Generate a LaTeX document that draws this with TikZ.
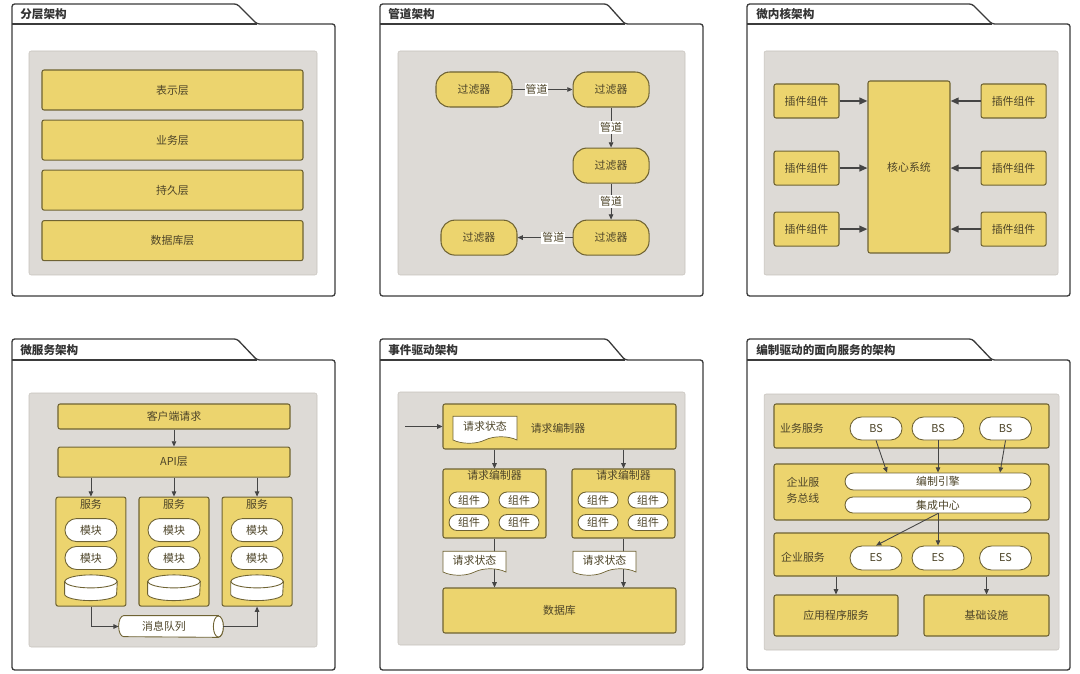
\documentclass[tikz,border=0pt]{standalone}
\usepackage{fontspec}
\setmainfont{Noto Sans CJK SC}
\usepackage{xcolor}
\usetikzlibrary{shapes.misc, shapes.symbols, arrows.meta, positioning, calc}
\definecolor{framegray}{HTML}{3B3B3B}
\definecolor{panelgray}{HTML}{DDDAD6}
\definecolor{panelline}{HTML}{C6C2BC}
\definecolor{layeryellow}{HTML}{ECD46E}
\definecolor{edgebrown}{HTML}{6F6333}
\definecolor{inktext}{HTML}{4D4428}
\definecolor{arrowgray}{HTML}{454545}
\newcommand{\boxfont}{\fontsize{6.2}{7.4}\selectfont}
\tikzset{
  panelframe/.style = {draw=framegray, line width=0.75pt, rounded corners=1.5pt},
  paneltitle/.style = {anchor=west, inner sep=0pt, font=\fontsize{6.6}{7.4}\selectfont\bfseries,
                       text=black!80},
  backdrop/.style   = {draw=panelline, fill=panelgray, line width=0.3pt, rounded corners=1.2pt},
  layer/.style      = {rectangle, draw=edgebrown, fill=layeryellow, line width=0.6pt,
                       rounded corners=1.2pt, inner sep=0pt, text=inktext, font=\boxfont},
  filter/.style     = {layer, rounded corners=2.8mm, minimum width=15.2mm, minimum height=7mm},
  plugin/.style     = {layer, minimum width=13mm, minimum height=6.8mm},
  svcbox/.style     = {layer, minimum width=14mm, minimum height=21.8mm},
  pill/.style       = {rounded rectangle, draw=edgebrown, fill=white, line width=0.5pt,
                       inner sep=0pt, text=inktext, font=\boxfont},
  module/.style     = {pill, minimum width=10.4mm, minimum height=4.6mm},
  comp/.style       = {pill, minimum width=8mm, minimum height=3.2mm},
  docu/.style       = {tape, tape bend top=none, tape bend height=1.3mm, draw=edgebrown,
                       fill=white, line width=0.4pt, inner sep=0pt, text=inktext, font=\boxfont},
  diskslot/.style   = {rectangle, minimum width=10.4mm, minimum height=5mm, inner sep=0pt},
  qslot/.style      = {rectangle, minimum width=20.8mm, minimum height=4.2mm, inner sep=0pt},
  drum/.style       = {draw=edgebrown, fill=white, line width=0.5pt},
  txt/.style        = {inner sep=0pt, text=inktext, font=\boxfont},
  pipe/.style       = {fill=white, inner sep=0.6pt, text=inktext, font=\boxfont},
  arr/.style        = {-{Triangle[length=3pt, width=2.6pt]}, draw=arrowgray, line width=0.5pt},
  bigarr/.style     = {-{Triangle[length=4.6pt, width=3.8pt]}, draw=arrowgray, line width=1pt}
}

\begin{document}
\begin{tikzpicture}[x=0.2mm, y=-0.2mm]
  \useasboundingbox (0,0) rectangle (1080,674);

  % ---------------- panel frames
  \draw[panelframe] (12,24) -- (12,4) -- (237,4) -- (257,24) -- (335,24) -- (335,296) -- (12,296) -- cycle;
  \draw[panelframe] (12,24) -- (257,24);
  \node[paneltitle] (title1) at (20,14.5) {分层架构};
  \draw[panelframe] (380,24) -- (380,4) -- (607,4) -- (625,24) -- (703,24) -- (703,296) -- (380,296) -- cycle;
  \draw[panelframe] (380,24) -- (625,24);
  \node[paneltitle] (title2) at (388,14.5) {管道架构};
  \draw[panelframe] (747,24) -- (747,4) -- (972,4) -- (992,24) -- (1070,24) -- (1070,296) -- (747,296) -- cycle;
  \draw[panelframe] (747,24) -- (992,24);
  \node[paneltitle] (title3) at (756,14.5) {微内核架构};
  \draw[panelframe] (12,360) -- (12,339) -- (237,339) -- (257,360) -- (335,360) -- (335,670) -- (12,670) -- cycle;
  \draw[panelframe] (12,360) -- (257,360);
  \node[paneltitle] (title4) at (20,350) {微服务架构};
  \draw[panelframe] (380,360) -- (380,339) -- (607,339) -- (625,360) -- (703,360) -- (703,670) -- (380,670) -- cycle;
  \draw[panelframe] (380,360) -- (625,360);
  \node[paneltitle] (title5) at (388,350) {事件驱动架构};
  \draw[panelframe] (747,360) -- (747,339) -- (972,339) -- (992,360) -- (1070,360) -- (1070,670) -- (747,670) -- cycle;
  \draw[panelframe] (747,360) -- (992,360);
  \node[paneltitle] (title6) at (756,350) {编制驱动的面向服务的架构};

  \draw[backdrop] (29,51) rectangle (317,275);
  \draw[backdrop] (398,51) rectangle (685,275);
  \draw[backdrop] (764,51) rectangle (1058,275);
  \draw[backdrop] (29,393) rectangle (317,647);
  \draw[backdrop] (398,392) rectangle (685,645);
  \draw[backdrop] (764,394) rectangle (1059,650);

  % ---------------- layered
  \node[layer, minimum width=52.2mm, minimum height=8mm] (pres) at (172.5,90) {表示层};
  \node[layer, minimum width=52.2mm, minimum height=8mm, below=1.8mm of pres] (biz) {业务层};
  \node[layer, minimum width=52.2mm, minimum height=8mm, below=1.8mm of biz] (persist) {持久层};
  \node[layer, minimum width=52.2mm, minimum height=8mm, below=1.9mm of persist] (dblayer) {数据库层};

  % ---------------- pipeline
  \node[filter] (f1) at (474,89.5) {过滤器};
  \node[filter, right=12mm of f1] (f2) {过滤器};
  \node[filter, below=8mm of f2] (f3) {过滤器};
  \node[filter, below=7.2mm of f3] (f4) {过滤器};
  \node[filter, left=11mm of f4] (f5) {过滤器};
  \draw[arr] (f1) -- node[pipe, pos=0.4] {管道} (f2);
  \draw[arr] (f2) -- node[pipe] {管道} (f3);
  \draw[arr] (f3) -- node[pipe] {管道} (f4);
  \draw[arr] (f4) -- node[pipe, pos=0.35] {管道} (f5);

  % ---------------- microkernel
  \node[layer, minimum width=16.4mm, minimum height=34.4mm] (core) at (909,167) {核心系统};
  \node[plugin] (pl1) at (806.5,101) {插件组件};
  \node[plugin, below=6.4mm of pl1] (pl2) {插件组件};
  \node[plugin, below=5.2mm of pl2] (pl3) {插件组件};
  \node[plugin, right=28.2mm of pl1] (pr1) {插件组件};
  \node[plugin, right=28.2mm of pl2] (pr2) {插件组件};
  \node[plugin, right=28.2mm of pl3] (pr3) {插件组件};
  \draw[bigarr] (pl1.east) -- (pl1.east -| core.west);
  \draw[bigarr] (pl2.east) -- (pl2.east -| core.west);
  \draw[bigarr] (pl3.east) -- (pl3.east -| core.west);
  \draw[bigarr] (pr1.west) -- (pr1.west -| core.east);
  \draw[bigarr] (pr2.west) -- (pr2.west -| core.east);
  \draw[bigarr] (pr3.west) -- (pr3.west -| core.east);

  % ---------------- microservices
  \node[layer, minimum width=46.4mm, minimum height=5mm] (client) at (174,416.5) {客户端请求};
  \node[layer, minimum width=46.4mm, minimum height=6mm, below=3.4mm of client] (api) {API层};
  \node[svcbox, below=3.8mm of api] (svc2) {};
  \node[svcbox, left=2.4mm of svc2] (svc1) {};
  \node[svcbox, right=2.4mm of svc2] (svc3) {};
  \node[txt, below=0.4mm of svc1.north] (svc1t) {服务};
  \node[txt, below=0.4mm of svc2.north] (svc2t) {服务};
  \node[txt, below=0.4mm of svc3.north] (svc3t) {服务};
  \node[module] (mod11) at ($(svc1.north)+(0,33.5)$) {模块};
  \node[module, below=0.8mm of mod11] (mod12) {模块};
  \node[diskslot, below=1mm of mod12] (db1) {};
  \node[module] (mod21) at ($(svc2.north)+(0,33.5)$) {模块};
  \node[module, below=0.8mm of mod21] (mod22) {模块};
  \node[diskslot, below=1mm of mod22] (db2) {};
  \node[module] (mod31) at ($(svc3.north)+(0,33.5)$) {模块};
  \node[module, below=0.8mm of mod31] (mod32) {模块};
  \node[diskslot, below=1mm of mod32] (db3) {};
  % disks
  \foreach \d in {db1,db2,db3}{
    \draw[drum] ($(\d.north west)+(0,-1.3mm)$) -- ($(\d.south west)+(0,1.3mm)$)
      arc[start angle=180, end angle=360, x radius=5.2mm, y radius=1.3mm]
      -- ($(\d.north east)+(0,-1.3mm)$) -- cycle;
    \draw[drum] ($(\d.north)+(0,-1.3mm)$) ellipse[x radius=5.2mm, y radius=1.3mm];
  }
  % message queue
  \node[qslot] (mq) at (171,626.5) {};
  \draw[drum] ($(mq.north east)+(-1mm,0)$) -- ($(mq.north west)+(1mm,0)$)
    arc[start angle=90, end angle=270, x radius=1mm, y radius=2.1mm]
    -- ($(mq.south east)+(-1mm,0)$)
    arc[start angle=270, end angle=450, x radius=1mm, y radius=2.1mm] -- cycle;
  \draw[drum] ($(mq.east)+(-1mm,0)$) ellipse[x radius=1mm, y radius=2.1mm];
  \node[txt] (mqt) at ($(mq)+(-7,0)$) {消息队列};
  \draw[arr] (client) -- (api);
  \draw[arr] (api.south -| svc1) -- (svc1);
  \draw[arr] (api.south -| svc2) -- (svc2);
  \draw[arr] (api.south -| svc3) -- (svc3);
  \draw[arr] (svc1.south) |- (mq.west);
  \draw[arr] (mq.east) -| (svc3.south);

  % ---------------- event driven
  \node[layer, minimum width=46.6mm, minimum height=9mm] (orch) at (559.5,426.5) {};
  \node[docu, minimum width=12.8mm, minimum height=5.4mm] (state0) at (485,426.5) {请求状态};
  \node[txt] (orcht) at (558,428) {请求编制器};
  \coordinate (inlet) at (405,426.5);
  \draw[arr] (inlet) -- (orch.west);
  \node[layer, minimum width=20.6mm, minimum height=13.8mm] (subl) at (494.5,503.5) {};
  \node[layer, minimum width=20.6mm, minimum height=13.8mm] (subr) at (623.5,503.5) {};
  \node[txt, below=0.3mm of subl.north] (sublt) {请求编制器};
  \node[txt, below=0.3mm of subr.north] (subrt) {请求编制器};
  \node[comp] (cl1) at ($(subl)+(-25.5,-3.5)$) {组件};
  \node[comp] (cl2) at ($(subl)+(24.5,-3.5)$) {组件};
  \node[comp] (cl3) at ($(subl)+(-25.5,19)$) {组件};
  \node[comp] (cl4) at ($(subl)+(24.5,19)$) {组件};
  \node[comp] (cr1) at ($(subr)+(-25.5,-3.5)$) {组件};
  \node[comp] (cr2) at ($(subr)+(24.5,-3.5)$) {组件};
  \node[comp] (cr3) at ($(subr)+(-25.5,19)$) {组件};
  \node[comp] (cr4) at ($(subr)+(24.5,19)$) {组件};
  \node[layer, minimum width=46.6mm, minimum height=9mm] (evdb) at (559.5,610.5) {数据库};
  \draw[arr] (orch.south -| subl) -- (subl);
  \draw[arr] (orch.south -| subr) -- (subr);
  \draw[arr] (subl.south) -- (evdb.north -| subl);
  \draw[arr] (subr.south) -- (evdb.north -| subr);
  \node[docu, minimum width=12.6mm, minimum height=4.8mm] (statel) at (474.5,560) {请求状态};
  \node[docu, minimum width=12.6mm, minimum height=4.8mm] (stater) at (604.5,560) {请求状态};

  % ---------------- orchestration driven SOA
  \node[layer, minimum width=55mm, minimum height=8.8mm] (bsband) at (911.5,426) {};
  \node[layer, minimum width=55mm, minimum height=11.2mm] (esb) at (911.5,492) {};
  \node[layer, minimum width=55mm, minimum height=8.6mm] (esband) at (911.5,554.5) {};
  \node[txt] (bslabel) at (802,428) {业务服务};
  \node[txt, align=left, font=\fontsize{6.2}{9}\selectfont] (esblabel) at (803,490) {企业服\\务总线};
  \node[txt] (eslabel) at (803,557) {企业服务};
  \node[module] (bs1) at (876,428.5) {BS};
  \node[module] (bs2) at (938,428.5) {BS};
  \node[module] (bs3) at (1005.5,428.5) {BS};
  \node[pill, minimum width=37.2mm, minimum height=3.4mm] (engine) at (938,481.5) {编制引擎};
  \node[pill, minimum width=37.2mm, minimum height=3.2mm] (hub) at (938,505) {集成中心};
  \node[module, minimum height=4.8mm] (es1) at (876,558) {ES};
  \node[module, minimum height=4.8mm] (es2) at (938,558) {ES};
  \node[module, minimum height=4.8mm] (es3) at (1005.5,558) {ES};
  \node[layer, minimum width=24.8mm, minimum height=8.2mm] (appsvc) at (836,615.5) {应用程序服务};
  \node[layer, minimum width=25mm, minimum height=8.2mm] (infra) at (986.5,615.5) {基础设施};
  \draw[arr] (bs1.south) -- ($(engine.north)+(-51,0)$);
  \draw[arr] (bs2.south) -- (engine.north);
  \draw[arr] (bs3.south) -- ($(engine.north)+(62,0)$);
  \draw[arr] (hub.south) -- (es1.north);
  \draw[arr] (hub.south) -- (es2.north);
  \draw[arr] (esband.south -| appsvc) -- (appsvc);
  \draw[arr] (esband.south -| infra) -- (infra);
\end{tikzpicture}
\end{document}
